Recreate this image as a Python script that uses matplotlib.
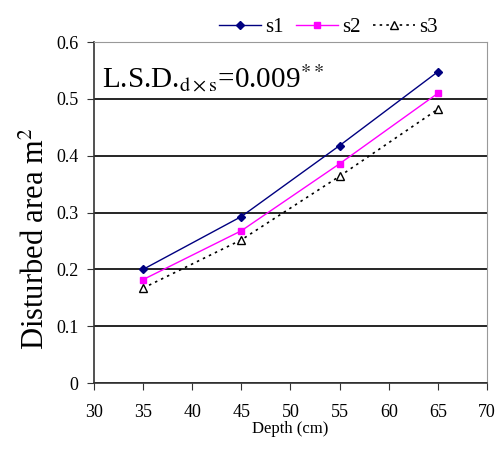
import matplotlib
matplotlib.use("Agg")
import matplotlib.pyplot as plt

# datos
depth = [35, 45, 55, 65]
s1 = [0.200, 0.293, 0.418, 0.548]
s2 = [0.182, 0.268, 0.386, 0.510]
s3 = [0.167, 0.252, 0.364, 0.482]

plt.rcParams['font.family'] = ['Liberation Serif', 'DejaVu Serif']
plt.rcParams['mathtext.fontset'] = 'stix'

fig = plt.figure(figsize=(4.97, 4.53), dpi=100)
ax = fig.add_axes([0.189, 0.1545, 0.791, 0.7525])

ax.plot(depth, s1, color='#000080', lw=1, marker='D', ms=4.5, label='s1')
ax.plot(depth, s2, color='#ff00ff', lw=1, marker='s', ms=4.5, label='s2')
ax.plot(depth, s3, color='black', lw=1.2, ls=(0, (1.5, 2.5)), marker='^', ms=5.5,
        mfc='white', mec='black', label='s3')

ax.set_xlim(30, 70)
ax.set_ylim(0, 0.6)
ax.set_xticks(range(30, 71, 5))
ax.set_yticks([0, 0.1, 0.2, 0.3, 0.4, 0.5, 0.6])
ax.set_yticklabels(['0', '0.1', '0.2', '0.3', '0.4', '0.5', '0.6'])
ax.yaxis.grid(True, color='black', lw=1.2)
ax.set_axisbelow(True)
ax.tick_params(labelsize=13, direction='out', length=5, color='#333333')
ax.tick_params(axis='x', pad=10)
ax.tick_params(axis='y', pad=6)

for side in ['top', 'right']:
    ax.spines[side].set_color('#999999')
for side in ['left', 'bottom']:
    ax.spines[side].set_color('#333333')
    ax.spines[side].set_linewidth(1.2)

ax.set_xlabel('Depth (cm)', fontsize=12, labelpad=0)
ax.set_ylabel('Disturbed area m$^2$', fontsize=22)
ax.yaxis.set_label_coords(-0.108, 0.422)

ax.text(0.02, 0.94, r'L.S.D.$_{\mathrm{d\times s}}$=0.009$^{**}$', transform=ax.transAxes,
        fontsize=21, va='top', ha='left')

ax.legend(loc='lower right', bbox_to_anchor=(0.895, 0.99), ncol=3, frameon=False,
          fontsize=15, handlelength=2.0, columnspacing=0.6, handletextpad=0.2,
          borderaxespad=0)

plt.savefig('out.png', dpi=100)
